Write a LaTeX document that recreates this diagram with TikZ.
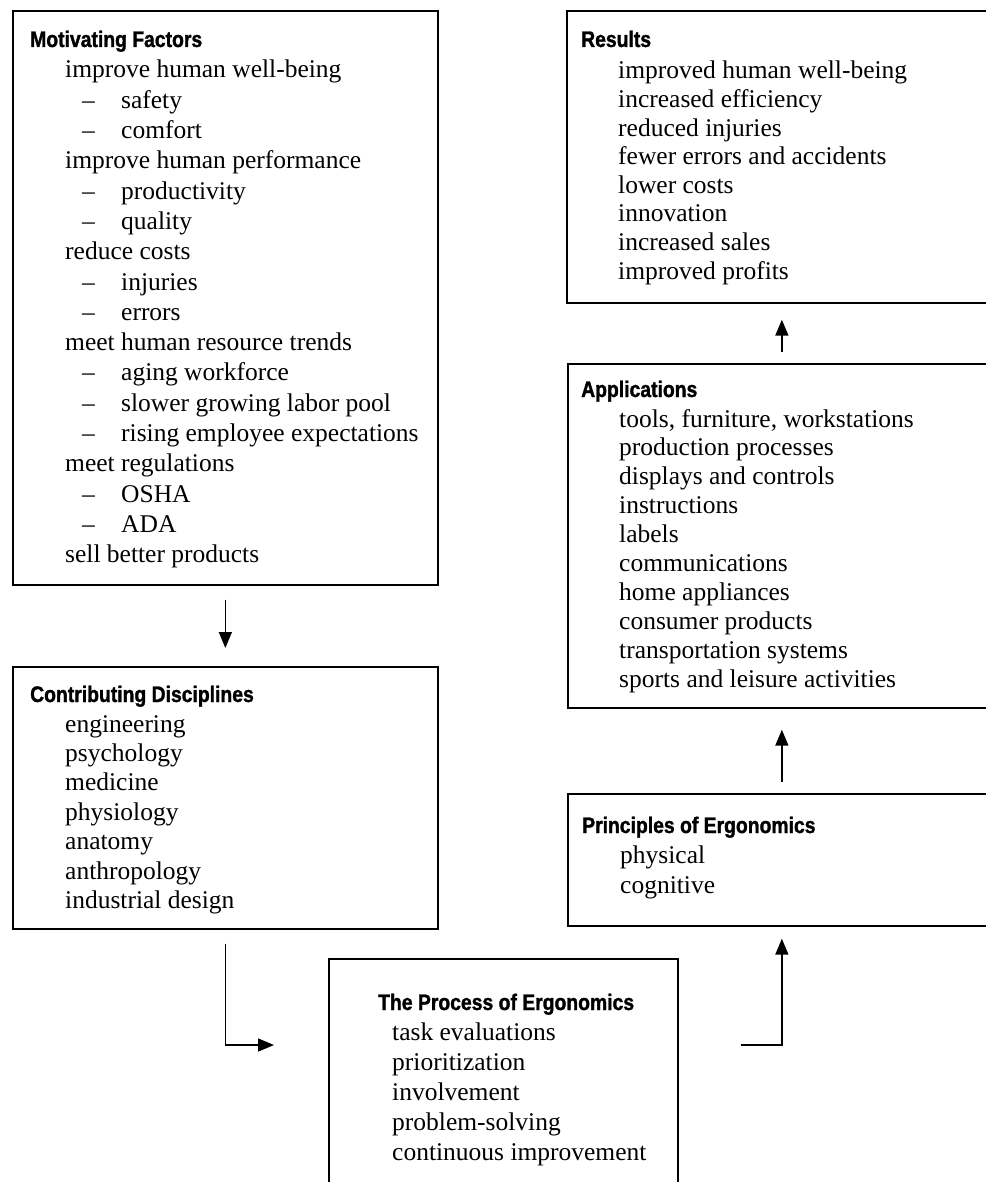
\documentclass[tikz,border=0pt]{standalone}
\usepackage{fontspec}
\setmainfont{Liberation Serif}
\newfontfamily\headfont[FakeStretch=0.86,BoldFeatures={FakeBold=1.3}]{Liberation Sans}
\usetikzlibrary{arrows.meta}
\newcommand{\myitem}[1]{\hspace*{17pt}\makebox[39pt][l]{--}#1}
\begin{document}
\begin{tikzpicture}[x=1pt,y=-1pt,
  box/.style={draw=black,line width=1.7pt,rectangle,inner sep=0pt},
  head/.style={anchor=base west,inner sep=0pt,font=\headfont\bfseries\fontsize{22.5}{26}\selectfont},
  body/.style={anchor=base west,inner sep=0pt},
  arr/.style={line width=1.6pt,-{Triangle[length=16pt,width=13pt]}}]
\useasboundingbox[fill=white] (0,0) rectangle (985,1182);
% boxes
\node[box,minimum width=425pt,minimum height=574pt,anchor=north west] (mf) at (12,10) {};
\node[box,minimum width=425pt,minimum height=262pt,anchor=north west] (cd) at (12,666) {};
\node[box,minimum width=349pt,minimum height=240pt,anchor=north west] (pe) at (328,958) {};
\node[box,minimum width=428pt,minimum height=132pt,anchor=north west] (pr) at (567,793) {};
\node[box,minimum width=428pt,minimum height=344pt,anchor=north west] (ap) at (567,363) {};
\node[box,minimum width=430pt,minimum height=292pt,anchor=north west] (rs) at (566,10) {};
% Motivating factors
\node[head] (mfh) at (30,47) {Motivating Factors};
\node[body] (mfb) at (65,78) {\parbox[t]{400pt}{\fontsize{25.5}{30.3}\selectfont
improve human well-being\\
\myitem{safety}\\
\myitem{comfort}\\
improve human performance\\
\myitem{productivity}\\
\myitem{quality}\\
reduce costs\\
\myitem{injuries}\\
\myitem{errors}\\
meet human resource trends\\
\myitem{aging workforce}\\
\myitem{slower growing labor pool}\\
\myitem{rising employee expectations}\\
meet regulations\\
\myitem{OSHA}\\
\myitem{ADA}\\
sell better products}};
% Contributing disciplines
\node[head] (cdh) at (30,702) {Contributing Disciplines};
\node[body] (cdb) at (65,732) {\parbox[t]{360pt}{\fontsize{25.5}{29.4}\selectfont
engineering\\
psychology\\
medicine\\
physiology\\
anatomy\\
anthropology\\
industrial design}};
% Process
\node[head] (peh) at (378,1010) {The Process of Ergonomics};
\node[body] (peb) at (392,1040) {\parbox[t]{280pt}{\fontsize{25.5}{30}\selectfont
task evaluations\\
prioritization\\
involvement\\
problem-solving\\
continuous improvement}};
% Principles
\node[head] (prh) at (582,833) {Principles of Ergonomics};
\node[body] (prb) at (620,863) {\parbox[t]{300pt}{\fontsize{25.5}{30}\selectfont
physical\\
cognitive}};
% Applications
\node[head] (aph) at (581,397) {Applications};
\node[body] (apb) at (619,427) {\parbox[t]{360pt}{\fontsize{25.5}{28.9}\selectfont
tools, furniture, workstations\\
production processes\\
displays and controls\\
instructions\\
labels\\
communications\\
home appliances\\
consumer products\\
transportation systems\\
sports and leisure activities}};
% Results
\node[head] (rsh) at (581,47) {Results};
\node[body] (rsb) at (618,79) {\parbox[t]{360pt}{\fontsize{25.5}{28.6}\selectfont
improved human well-being\\
increased efficiency\\
reduced injuries\\
fewer errors and accidents\\
lower costs\\
innovation\\
increased sales\\
improved profits}};
% connectors
\coordinate (lvl) at (0,1045);
\draw[arr,shorten <=14pt,shorten >=18pt] (mf.south) -- (cd.north);
\draw[arr,shorten <=14pt,shorten >=54pt] (cd.south) |- (lvl -| pe.west);
\draw[arr,shorten <=62pt,shorten >=12pt] (lvl -| pe.east) -| (pr.south);
\draw[arr,shorten <=11pt,shorten >=21pt] (pr.north) -- (ap.south);
\draw[arr,shorten <=11pt,shorten >=16pt] (ap.north) -- (rs.south);
\end{tikzpicture}
\end{document}
